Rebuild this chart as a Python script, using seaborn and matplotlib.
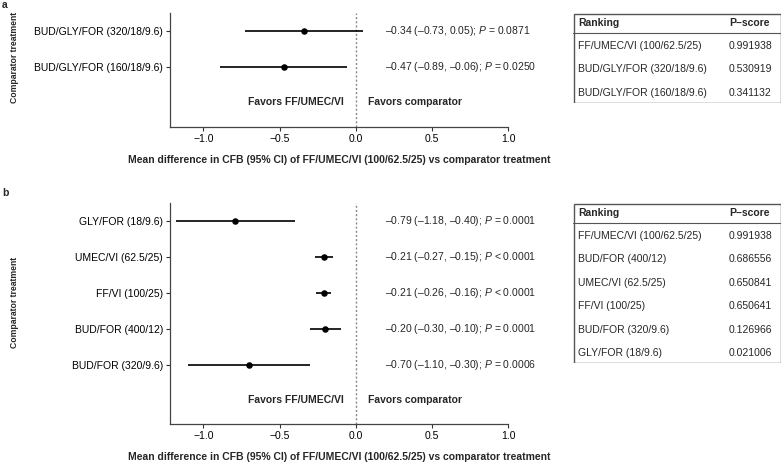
import matplotlib
matplotlib.use("Agg")
import matplotlib.pyplot as plt
import seaborn as sns
import pandas as pd
from matplotlib.patches import Rectangle

sns.set_theme(style="ticks")
plt.rcParams['font.family'] = ['Liberation Sans', 'DejaVu Sans']
plt.rcParams['mathtext.fontset'] = 'custom'
plt.rcParams['mathtext.rm'] = 'Liberation Sans'
plt.rcParams['mathtext.it'] = 'Liberation Sans:italic'

FS = 7.5

# panel a data
a_labels = ['BUD/GLY/FOR (320/18/9.6)', 'BUD/GLY/FOR (160/18/9.6)']
a_est = [-0.34, -0.47]
a_lo = [-0.73, -0.89]
a_hi = [0.05, -0.06]
a_p = ['= 0.0871', '= 0.0250']

# panel b data
b_labels = ['GLY/FOR (18/9.6)', 'UMEC/VI (62.5/25)', 'FF/VI (100/25)',
            'BUD/FOR (400/12)', 'BUD/FOR (320/9.6)']
b_est = [-0.79, -0.21, -0.21, -0.20, -0.70]
b_lo = [-1.18, -0.27, -0.26, -0.30, -1.10]
b_hi = [-0.40, -0.15, -0.16, -0.10, -0.30]
b_p = ['= 0.0001', '< 0.0001', '< 0.0001', '= 0.0001', '= 0.0006']

# ranking tables
a_rank = ['FF/UMEC/VI (100/62.5/25)', 'BUD/GLY/FOR (320/18/9.6)', 'BUD/GLY/FOR (160/18/9.6)']
a_score = ['0.991938', '0.530919', '0.341132']
b_rank = ['FF/UMEC/VI (100/62.5/25)', 'BUD/FOR (400/12)', 'UMEC/VI (62.5/25)',
          'FF/VI (100/25)', 'BUD/FOR (320/9.6)', 'GLY/FOR (18/9.6)']
b_score = ['0.991938', '0.686556', '0.650841', '0.650641', '0.126966', '0.021006']

W, H = 781, 463
fig = plt.figure(figsize=(W / 100, H / 100), dpi=100)


def box(x0, y0, x1, y1):
    # pixel box (top-left origin) -> figure fraction rect
    return [x0 / W, 1 - y1 / H, (x1 - x0) / W, (y1 - y0) / H]


def dash(v):
    return f'{v:.2f}'.replace('-', '\u2013')


def forest(ax, labels, est, lo, hi, pvals, ymax):
    df = pd.DataFrame({'label': labels, 'est': est, 'lo': lo, 'hi': hi,
                       'pos': range(len(labels))})
    ax.hlines(df['pos'], df['lo'], df['hi'], color='black', lw=1.2, zorder=2)
    sns.scatterplot(data=df, x='est', y='pos', ax=ax, color='black', s=22,
                    edgecolor='black', linewidth=0, zorder=3, legend=False)
    ax.axvline(0, color='#888888', lw=1, ls=(0, (1.5, 1.5)), zorder=1)
    for _, r in df.iterrows():
        ax.text(0.19, r['pos'], f"{dash(r['est'])} ({dash(r['lo'])}, {dash(r['hi'])}); $P$ "
                + pvals[int(r['pos'])], fontsize=FS, va='center', ha='left', clip_on=False)
    fav_y = len(labels) - 0.03
    ax.text(-0.08, fav_y, 'Favors FF/UMEC/VI', fontsize=FS, fontweight='bold',
            ha='right', va='center')
    ax.text(0.08, fav_y, 'Favors comparator', fontsize=FS, fontweight='bold',
            ha='left', va='center')
    ax.set_xlim(-1.22, 1.0)
    ax.set_ylim(ymax, -0.5)
    ax.set_yticks(df['pos'])
    ax.set_yticklabels(labels)
    ax.set_xticks([-1.0, -0.5, 0.0, 0.5, 1.0])
    ax.set_xticklabels([t.replace('-', '\u2212') for t in ['-1.0', '-0.5', '0.0', '0.5', '1.0']])
    ax.tick_params(labelsize=FS, length=3, width=0.8, pad=2, colors='#333333', labelcolor='black')
    sns.despine(ax=ax)
    for s in ['left', 'bottom']:
        ax.spines[s].set_linewidth(0.9)
        ax.spines[s].set_color('#444444')
    ax.set_ylabel('')
    ax.set_xlabel('Mean difference in CFB (95% CI) of FF/UMEC/VI (100/62.5/25) vs comparator treatment',
                  fontsize=FS, fontweight='bold', labelpad=8)


def table(rect, names, scores, row_h):
    tax = fig.add_axes(rect)
    tax.set_axis_off()
    h_px = rect[3] * H
    tax.set_xlim(0, rect[2] * W)
    tax.set_ylim(h_px, 0)
    tax.add_patch(Rectangle((0.5, 0.5), rect[2] * W - 1, h_px - 1, fill=False,
                            ec='#555555', lw=1))
    tax.text(5, 10, 'Ranking', fontsize=FS, fontweight='bold', va='center')
    tax.text(156, 10, 'P\u2013score', fontsize=FS, fontweight='bold', va='center')
    tax.plot([0, rect[2] * W], [20, 20], color='#555555', lw=0.8)
    for i, (n, s) in enumerate(zip(names, scores)):
        y = 33 + i * row_h
        tax.text(5, y, n, fontsize=FS, va='center')
        tax.text(156, y, s, fontsize=FS, va='center')


ax_a = fig.add_axes(box(170, 13, 508, 127))
forest(ax_a, a_labels, a_est, a_lo, a_hi, a_p, 2.67)
ax_b = fig.add_axes(box(170, 203, 508, 424))
forest(ax_b, b_labels, b_est, b_lo, b_hi, b_p, 5.64)

table(box(573, 13, 781, 103), a_rank, a_score, 23.5)
table(box(573, 203, 781, 363), b_rank, b_score, 23.4)

fig.text(15 / W, 1 - 57 / H, 'Comparator treatment', rotation=90, fontsize=6.2,
         fontweight='bold', ha='center', va='center')
fig.text(15 / W, 1 - 302 / H, 'Comparator treatment', rotation=90, fontsize=6.2,
         fontweight='bold', ha='center', va='center')
fig.text(2 / W, 1 - 5 / H, 'a', fontsize=FS, fontweight='bold', ha='left', va='center')
fig.text(2 / W, 1 - 193 / H, 'b', fontsize=FS, fontweight='bold', ha='left', va='center')

fig.savefig('out.png', dpi=100, facecolor='white')
